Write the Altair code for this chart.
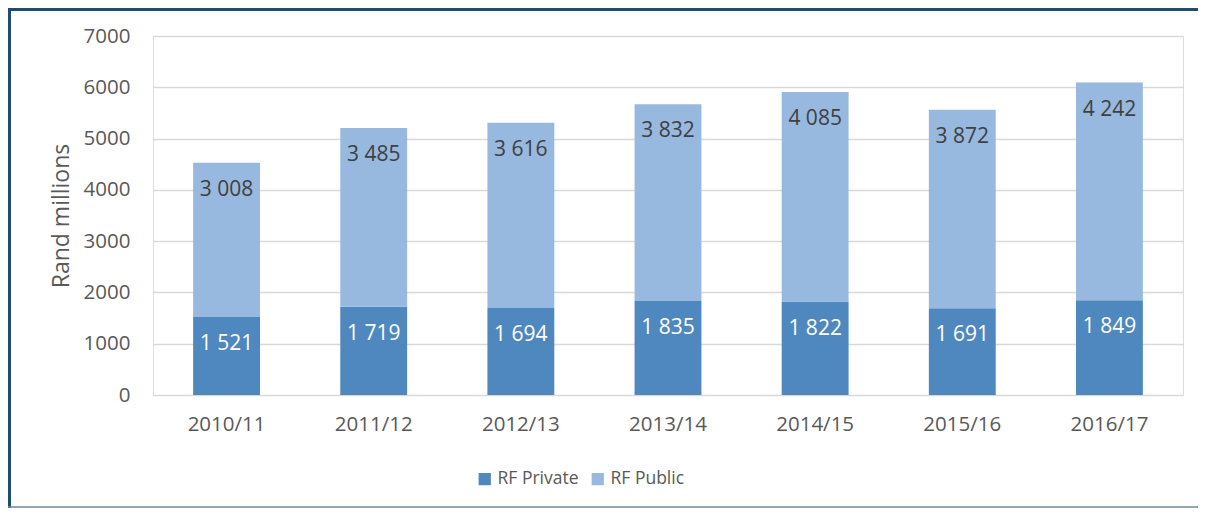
import altair as alt
import pandas as pd

years = ["2010/11", "2011/12", "2012/13", "2013/14", "2014/15", "2015/16", "2016/17"]
rf_private = [1521, 1719, 1694, 1835, 1822, 1691, 1849]
rf_public = [3008, 3485, 3616, 3832, 4085, 3872, 4242]
series = ["RF Private", "RF Public"]
colors = ["#4F88BE", "#97B9E0"]
label_colors = ["#FFFFFF", "#404040"]

rows = []
for i, y in enumerate(years):
    rows.append({"year": y, "series": series[0], "value": rf_private[i], "order": 0, "lc": label_colors[0]})
    rows.append({"year": y, "series": series[1], "value": rf_public[i], "order": 1, "lc": label_colors[1]})
df = pd.DataFrame(rows)

FONT = "Open Sans"
GRAY = "#595959"

base = alt.Chart(df).transform_stack(
    stack="value", groupby=["year"], as_=["y0", "y1"],
    sort=[alt.SortField("order", order="ascending")]
).transform_calculate(
    lab="replace(format(datum.value, ','), ',', ' ')"
)

x_enc = alt.X("year:N", sort=years,
              scale=alt.Scale(paddingInner=0.5455, paddingOuter=0.2727),
              axis=alt.Axis(title=None, labelAngle=0, labelFontSize=20.5, labelColor=GRAY,
                            labelFont=FONT, labelPadding=19, ticks=False, domain=False, grid=False))

bars = base.mark_bar().encode(
    x=x_enc,
    y=alt.Y("y0:Q", scale=alt.Scale(domain=[0, 7000], nice=False),
            axis=alt.Axis(title="Rand millions", values=[0, 1000, 2000, 3000, 4000, 5000, 6000, 7000],
                          format="d", labelFontSize=20.5, labelColor=GRAY, labelFont=FONT,
                          labelPadding=23, ticks=False, domain=False, gridColor="#D9D9D9",
                          gridWidth=1.5, titleFont=FONT, titleFontSize=23, titleFontWeight="normal",
                          titleColor=GRAY, titlePadding=10)),
    y2="y1:Q",
    color=alt.Color("series:N", scale=alt.Scale(domain=series, range=colors),
                    legend=alt.Legend(title=None, orient="none", legendX=323, legendY=434,
                                      direction="horizontal", symbolType="square", symbolSize=150,
                                      symbolStrokeWidth=0, labelFontSize=17.5, labelFont=FONT,
                                      labelColor=GRAY, labelOffset=4, columnPadding=10)),
    order=alt.Order("order:Q"),
)

texts = base.mark_text(fontSize=21, font=FONT, dy=27, baseline="middle").encode(
    x=alt.X("year:N", sort=years),
    y=alt.Y("y1:Q"),
    text="lab:N",
    color=alt.Color("lc:N", scale=None),
)

frame_data = alt.Data(values=[{"a": 1}])
left_border = alt.Chart(frame_data).mark_rule(color="#1B4F6B", strokeWidth=4).encode(
    x=alt.value(-144), y=alt.value(-28), y2=alt.value(472))
top_border = alt.Chart(frame_data).mark_rule(color="#1B4F6B", strokeWidth=3).encode(
    x=alt.value(-146), x2=alt.value(1045), y=alt.value(-26.5))
bottom_border = alt.Chart(frame_data).mark_rule(color="#708899", strokeWidth=1.5).encode(
    x=alt.value(-145), x2=alt.value(1045), y=alt.value(471))

chart = alt.layer(bars, texts, left_border, top_border, bottom_border).properties(
    width=1030, height=359,
    autosize=alt.AutoSizeParams(type="none"),
    padding={"left": 145, "top": 28, "right": 15, "bottom": 113},
).configure_view(stroke=None).configure(background="white")

chart.save("out.html", embed_options={"renderer": "svg", "actions": False})
